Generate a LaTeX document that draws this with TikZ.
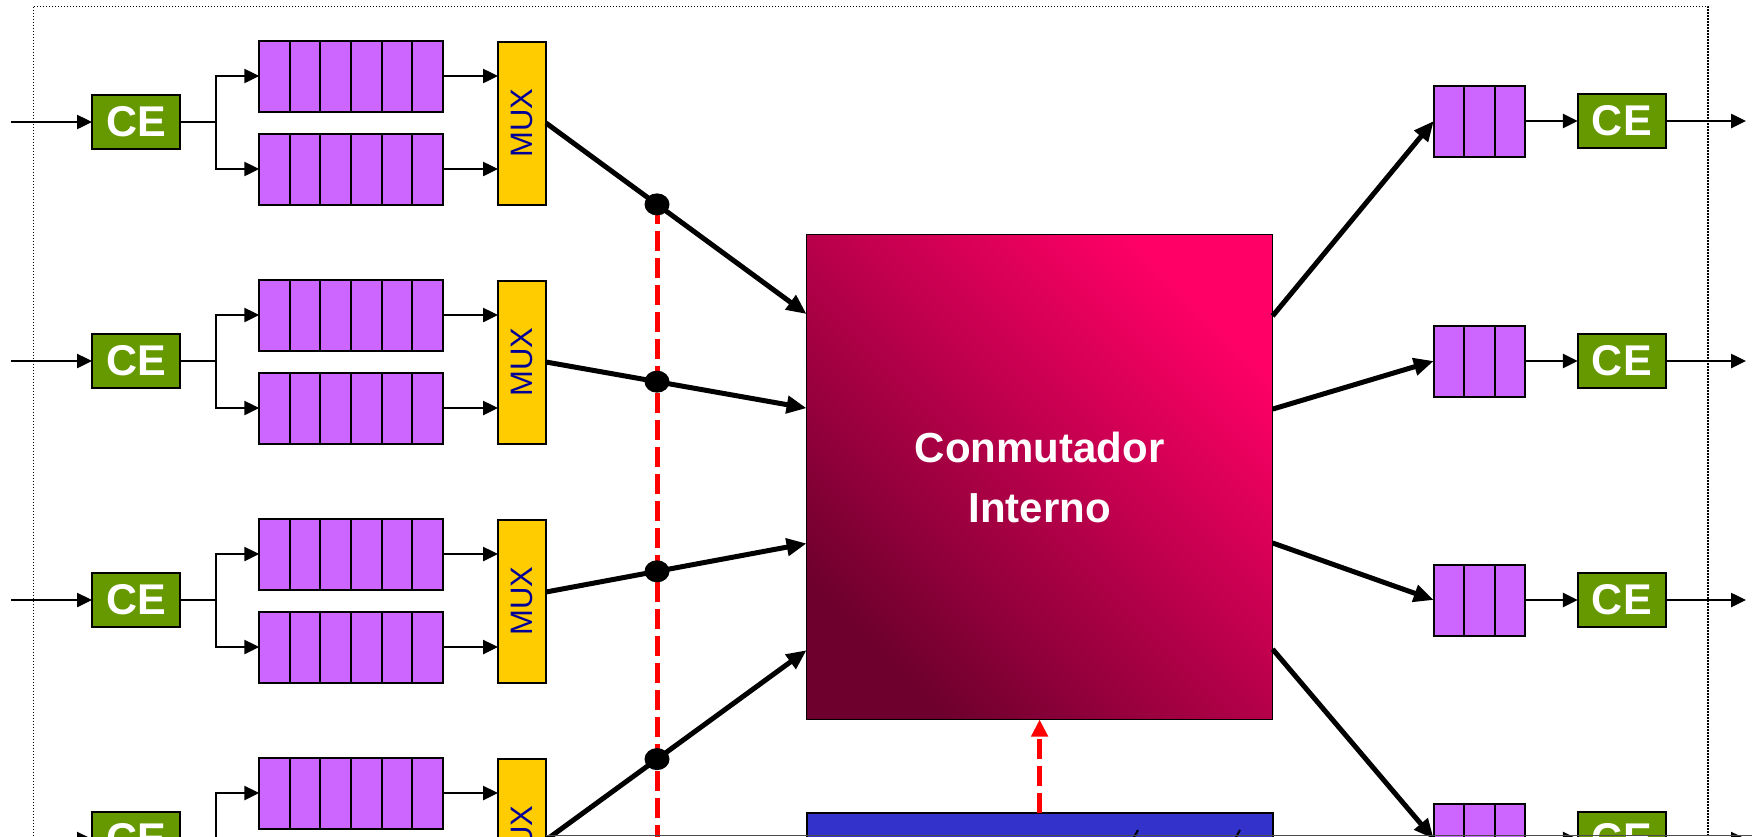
\documentclass[tikz,border=0pt]{standalone}
\usepackage{fontspec}
\setmainfont{Liberation Sans}
\usetikzlibrary{arrows.meta,calc,shapes.geometric}
\definecolor{cegreen}{RGB}{102,153,0}
\definecolor{qpurple}{RGB}{204,102,255}
\definecolor{muxyellow}{RGB}{255,204,0}
\definecolor{muxblue}{RGB}{0,0,153}
\definecolor{swtop}{RGB}{255,0,102}
\definecolor{swbot}{RGB}{110,0,45}
\definecolor{ctrlblue}{RGB}{51,51,204}
\definecolor{dashred}{RGB}{255,0,0}
\begin{document}
\begin{tikzpicture}[x=1pt,y=-1pt,
  box/.style={draw=black, line width=2pt, inner sep=0pt, outer sep=0pt},
  cebox/.style={box, fill=cegreen, minimum width=88pt, minimum height=54pt, text=white, font=\bfseries\fontsize{43}{43}\selectfont},
  queue/.style={box, fill=qpurple, minimum width=183.5pt, minimum height=71pt},
  oqueue/.style={box, fill=qpurple, minimum width=91.5pt, minimum height=71pt},
  muxbox/.style={box, fill=muxyellow, minimum width=48pt, minimum height=163pt},
  muxlabel/.style={rotate=90, text=muxblue, font=\fontsize{31}{31}\selectfont, inner sep=0pt},
  thinarrow/.style={line width=2.5pt, -{Triangle[length=15pt,width=14pt]}},
  thinline/.style={line width=2.5pt},
  thickarrow/.style={line width=5pt, -{Triangle[length=20pt,width=17pt]}},
  reddash/.style={draw=dashred, line width=5pt, dash pattern=on 20pt off 7pt},
  dot/.style={ellipse, fill=black, minimum width=25pt, minimum height=22pt, inner sep=0pt},
  divider/.style={line width=2pt},
]
\useasboundingbox (0,0) rectangle (1752,836);
\clip (0,0) rectangle (1752,836);

% dotted frame
\draw[line width=1.5pt, dash pattern=on 1.5pt off 1.5pt] (33.5,6.7) rectangle (1708,1000);

% switch
\node[draw=black, line width=1.5pt, top color=swtop, bottom color=swbot, shading angle=-45,
      minimum width=466pt, minimum height=485pt, inner sep=0pt, outer sep=0pt,
      text=white, align=center, font=\bfseries\fontsize{42}{60}\selectfont]
      (sw) at (1039.6,477) {Conmutador\\Interno};

% control block (cut off)
\node[box, fill=ctrlblue, minimum width=466pt, minimum height=80pt, anchor=north] (ctrl) at (1039.6,813) {};
\draw[line width=2pt] (1134,837) -- (1138,830);
\draw[line width=2pt] (1236,837) -- (1240,830);
\draw[reddash, -{Triangle[length=17pt,width=16pt]}] (ctrl.north) -- (sw.south);

% switch attachment points
\foreach \r/\f in {1/0.164,2/0.358,3/0.637,4/0.857}
  \coordinate (swi\r) at ($(sw.north west)!\f!(sw.south west)$);
\foreach \r/\f in {1/0.168,2/0.360,3/0.636,4/0.855}
  \coordinate (swo\r) at ($(sw.north east)!\f!(sw.south east)$);

% input side
\foreach \r/\yc in {1/122,2/361,3/600,4/839} {
  \node[cebox] (ce\r) at (136,\yc) {CE};
  \coordinate (in\r) at (11,\yc);
  \coordinate (br\r) at (216,\yc);
  \node[queue] (qa\r) at (351,\yc-46) {};
  \node[queue] (qb\r) at (351,\yc+47) {};
  \foreach \i in {1,...,5} {
    \draw[divider] ($(qa\r.north west)!\i/6!(qa\r.north east)$) -- ($(qa\r.south west)!\i/6!(qa\r.south east)$);
    \draw[divider] ($(qb\r.north west)!\i/6!(qb\r.north east)$) -- ($(qb\r.south west)!\i/6!(qb\r.south east)$);
  }
  \node[muxbox] (mux\r) at (522,\yc+1) {};
  \node[muxlabel] (muxl\r) at (mux\r) {MUX};
  \draw[thinarrow] (in\r) -- (ce\r.west);
  \draw[thinline] (ce\r.east) -- (br\r);
  \draw[thinarrow] (br\r) |- (qa\r.west);
  \draw[thinarrow] (br\r) |- (qb\r.west);
  \draw[thinarrow] (qa\r.east) -- (qa\r.east -| mux\r.west);
  \draw[thinarrow] (qb\r.east) -- (qb\r.east -| mux\r.west);
}

\coordinate (mo1) at (mux1.east);
\coordinate (mo2) at (mux2.east);
\coordinate (mo3) at ($(mux3.east)+(0,-9)$);
\coordinate (mo4) at (mux4.east);
\foreach \r in {1,...,4}
  \coordinate (dp\r) at ($(mo\r)!0.426!(swi\r)$);

% red dashed control line
\draw[reddash] (dp1) -- (dp1 |- 0,950);

% thick connectors into the switch
\foreach \r in {1,...,4}
  \draw[thickarrow] (mo\r) -- (swi\r);
\foreach \r in {1,...,4}
  \node[dot] (dt\r) at (dp\r) {};

% output side
\foreach \r/\yc in {1/121,2/361,3/600,4/839} {
  \node[oqueue] (oq\r) at (1479.5,\yc) {};
  \foreach \i in {1,2}
    \draw[divider] ($(oq\r.north west)!\i/3!(oq\r.north east)$) -- ($(oq\r.south west)!\i/3!(oq\r.south east)$);
  \node[cebox] (oce\r) at (1621.8,\yc) {CE};
  \coordinate (out\r) at (1746,\yc);
  \draw[thickarrow] (swo\r) -- (oq\r.west);
  \draw[thinarrow] (oq\r.east) -- (oce\r.west);
  \draw[thinarrow] (oce\r.east) -- (out\r);
}

\draw[line width=1.5pt, black!70] (546,835.5) -- (1752,835.5);
\end{tikzpicture}
\end{document}
